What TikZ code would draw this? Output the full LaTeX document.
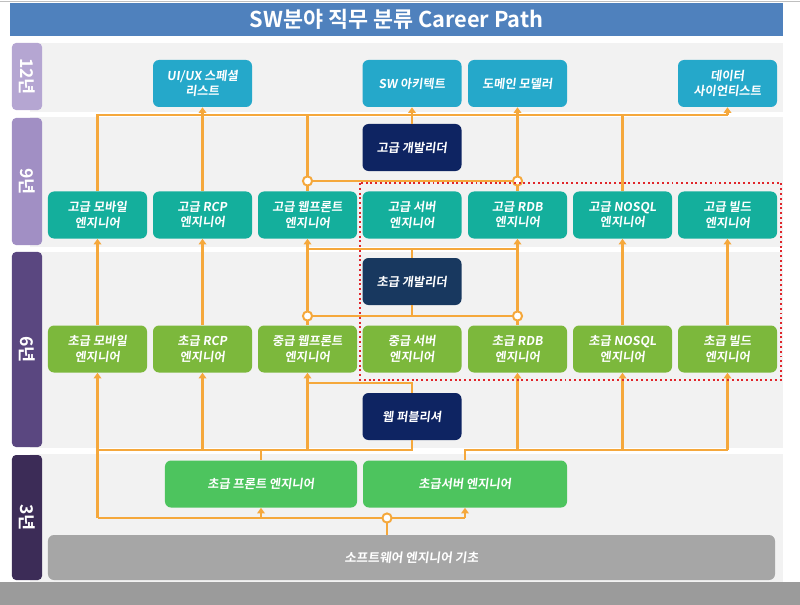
\documentclass[tikz,border=0pt]{standalone}
\usepackage{fontspec}
\usepackage{tikz}
\usetikzlibrary{arrows.meta}
\newfontfamily\krfont{Noto Sans CJK KR}[UprightFont=* Bold,FakeSlant=0.12]
\newfontfamily\krhead{Noto Sans CJK KR}[UprightFont=* Bold]
\definecolor{TitleBlue}{HTML}{4F81BD}
\definecolor{RowFill}{HTML}{F2F2F2}
\definecolor{TabA}{HTML}{B5A6D2}
\definecolor{TabB}{HTML}{A18FC4}
\definecolor{TabC}{HTML}{5A4780}
\definecolor{TabD}{HTML}{3C2C57}
\definecolor{SkyBox}{HTML}{25A8CA}
\definecolor{NavyBox}{HTML}{0E2462}
\definecolor{SlateBox}{HTML}{18385F}
\definecolor{TealBox}{HTML}{14AF9C}
\definecolor{OliveBox}{HTML}{7CB83C}
\definecolor{LeafBox}{HTML}{4DC45E}
\definecolor{BaseGray}{HTML}{A6A6A6}
\definecolor{FootGray}{HTML}{9B9B9B}
\definecolor{PathInk}{HTML}{F5A83C}
\definecolor{MarkRed}{HTML}{E0262B}
\tikzset{
  figure/.style={font=\krfont,text=white,x=0.25mm,y=-0.25mm},
  job/.style={rounded corners=1.5mm,minimum width=24.75mm,minimum height=11.75mm,
    align=center,inner sep=0pt,font=\krfont\fontsize{8.7}{10.8}\selectfont},
  sky/.style={job,fill=SkyBox},
  teal/.style={job,fill=TealBox},
  olive/.style={job,fill=OliveBox},
  leaf/.style={job,fill=LeafBox,minimum width=48mm},
  lead/.style={job,fill=NavyBox},
  tab/.style={rotate=-90,rounded corners=1mm,minimum height=7.5mm,inner sep=0pt,
    font=\krhead\fontsize{12.5}{12.5}\selectfont},
  wire/.style={draw=PathInk,line width=1.8pt},
  flow/.style={wire,-{Triangle[length=1.4mm,width=1.9mm]}},
  joint/.style={circle,draw=PathInk,line width=1.4pt,fill=white,inner sep=0pt,minimum size=2.3mm},
  hotzone/.style={draw=MarkRed,line width=1.4pt,dotted},
}

\begin{document}
\begin{tikzpicture}[figure]
  \useasboundingbox (0,0) rectangle (800,605);
  % background rows
  \draw[gray!50,line width=0.6pt] (0,1.5) -- (800,1.5);
  \fill[RowFill] (30,43) rectangle (783,112);
  \fill[RowFill] (30,117) rectangle (783,247);
  \fill[RowFill] (30,252) rectangle (783,448);
  \fill[RowFill] (30,454) rectangle (783,582);
  \fill[FootGray] (0,582) rectangle (800,605);

  \node[fill=TitleBlue,minimum width=193.25mm,minimum height=8.25mm,
    font=\krhead\fontsize{15.5}{16}\selectfont] (title) at (396.5,19.5)
    {SW분야 직무 분류 Career Path};

  % years
  \node[tab,fill=TabA,minimum width=16.75mm] (tab12) at (27,76.5) {12년};
  \node[tab,fill=TabB,minimum width=31.75mm] (tab9) at (27,181.5) {9년};
  \node[tab,fill=TabC,minimum width=48.75mm] (tab6) at (27,349.5) {6년};
  \node[tab,fill=TabD,minimum width=31.25mm] (tab3) at (27,517.5) {3년};

  % 12 years
  \node[sky] (uiux) at (202.5,83.5) {UI/UX 스페셜\\리스트};
  \node[sky] (arch) at (412,83.5) {SW 아키텍트};
  \node[sky] (dom) at (517.5,83.5) {도메인 모델러};
  \node[sky] (sci) at (727.5,83.5) {데이터\\사이언티스트};

  % 9 years
  \node[lead] (lead9) at (412,147.5) {고급 개발리더};
  \node[teal] (mob9) at (97.5,215) {고급 모바일\\엔지니어};
  \node[teal] (rcp9) at (202.5,215) {고급 RCP\\엔지니어};
  \node[teal] (web9) at (307.5,215) {고급 웹프론트\\엔지니어};
  \node[teal] (srv9) at (412,215) {고급 서버\\엔지니어};
  \node[teal] (rdb9) at (517.5,215) {고급 RDB\\엔지니어};
  \node[teal] (nosql9) at (622.5,215) {고급 NOSQL\\엔지니어};
  \node[teal] (build9) at (727.5,215) {고급 빌드\\엔지니어};

  % 6 years
  \node[lead,fill=SlateBox] (lead6) at (412,281.5) {초급 개발리더};
  \node[olive] (mob6) at (97.5,349) {초급 모바일\\엔지니어};
  \node[olive] (rcp6) at (202.5,349) {초급 RCP\\엔지니어};
  \node[olive] (web6) at (307.5,349) {중급 웹프론트\\엔지니어};
  \node[olive] (srv6) at (412,349) {중급 서버\\엔지니어};
  \node[olive] (rdb6) at (517.5,349) {초급 RDB\\엔지니어};
  \node[olive] (nosql6) at (622.5,349) {초급 NOSQL\\엔지니어};
  \node[olive] (build6) at (727.5,349) {초급 빌드\\엔지니어};
  \node[lead] (pub) at (412,416.5) {웹 퍼블리셔};

  % 3 years
  \node[leaf] (front3) at (261,484) {초급 프론트 엔지니어};
  \node[leaf,minimum width=51mm] (srv3) at (465,484) {초급서버 엔지니어};
  \node[job,fill=BaseGray,minimum width=181.75mm,minimum height=11.25mm,
    font=\krfont\fontsize{9}{11}\selectfont] (base) at (411.5,557.5) {소프트웨어 엔지니어 기초};

  \coordinate (top12) at (0,115);
  \coordinate (mid9) at (0,181);
  \coordinate (top6) at (0,249);
  \coordinate (mid6) at (0,316);
  \coordinate (top3) at (0,383);
  \coordinate (bus3) at (0,450);
  \coordinate (bus0) at (0,518);
  \coordinate (hub) at (387,518);

  % 9 -> 12
  \draw[wire] (mob9.north) |- (sci.south |- top12);
  \draw[wire] (rcp9.north) -- (rcp9.north |- top12);
  \draw[wire] (web9.north) -- (web9.north |- top12);
  \draw[wire] (lead9.north) -- (lead9.north |- top12);
  \draw[wire] (rdb9.north) -- (rdb9.north |- top12);
  \draw[wire] (nosql9.north) -- (nosql9.north |- top12);
  \draw[wire] (web9.north |- mid9) -- (rdb9.north |- mid9);
  \draw[flow] (uiux.south |- top12) -- (uiux.south);
  \draw[flow] (arch.south |- top12) -- (arch.south);
  \draw[flow] (dom.south |- top12) -- (dom.south);
  \draw[flow] (sci.south |- top12) -- (sci.south);

  % 6 -> 9
  \draw[flow] (mob6.north) -- (mob9.south);
  \draw[flow] (rcp6.north) -- (rcp9.south);
  \draw[flow] (web6.north) -- (web9.south);
  \draw[flow] (rdb6.north) -- (rdb9.south);
  \draw[flow] (nosql6.north) -- (nosql9.south);
  \draw[flow] (build6.north) -- (build9.south);
  \draw[wire] (web9.south |- top6) -- (rdb9.south |- top6);
  \draw[wire] (lead6.north) -- (lead6.north |- top6);
  \draw[wire] (web6.north |- mid6) -- (rdb6.north |- mid6);
  \draw[wire] (lead6.south) -- (lead6.south |- mid6);

  % 3 -> 6
  \draw[wire] (mob6.south |- bus3) -- (pub.south |- bus3) -- (pub.south);
  \draw[wire] (front3.north) -- (front3.north |- bus3);
  \draw[wire] (pub.north) |- (web6.south |- top3);
  \draw[wire] (srv3.north) |- (build6.south |- bus3);
  \draw[flow] (mob6.south |- bus0) -- (mob6.south);
  \draw[flow] (rcp6.south |- bus3) -- (rcp6.south);
  \draw[flow] (web6.south |- bus3) -- (web6.south);
  \draw[flow] (rdb6.south |- bus3) -- (rdb6.south);
  \draw[flow] (nosql6.south |- bus3) -- (nosql6.south);
  \draw[flow] (build6.south |- bus3) -- (build6.south);

  % base -> 3
  \draw[wire] (mob6.south |- bus0) -- (srv3.south |- bus0);
  \draw[wire] (base.north -| hub) -- (hub);
  \draw[flow] (front3.south |- bus0) -- (front3.south);
  \draw[flow] (srv3.south |- bus0) -- (srv3.south);

  \node[joint] (j1) at (web9.north |- mid9) {};
  \node[joint] (j2) at (rdb9.north |- mid9) {};
  \node[joint] (j3) at (web6.north |- mid6) {};
  \node[joint] (j4) at (rdb6.north |- mid6) {};
  \node[joint] (j5) at (hub) {};

  \draw[hotzone] (360,183) rectangle (781,380);
\end{tikzpicture}
\end{document}
